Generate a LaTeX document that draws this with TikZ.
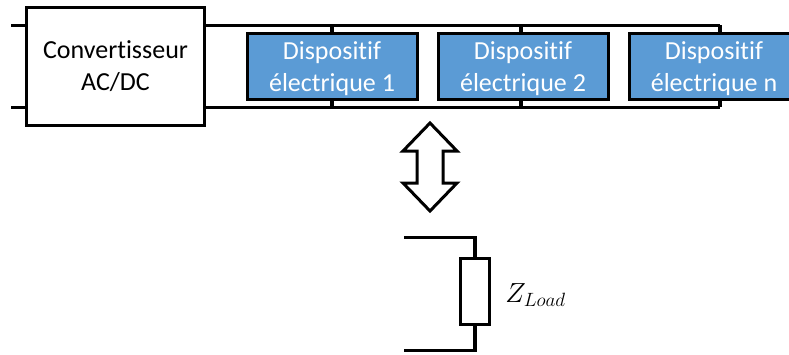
\documentclass[tikz,border=0pt]{standalone}
\usepackage{fontspec}
\setmainfont{Carlito}[Ligatures=NoCommon]
\usepackage{xcolor}
\usepackage{tikz}
\usetikzlibrary{calc, positioning}
\definecolor{devblue}{RGB}{91, 155, 213}

\tikzset{
    wire/.style={draw=black, line width=2.3pt},
    convbox/.style={draw=black, fill=white, line width=2.25pt, align=center, outer sep=0pt,
        minimum width=133.5pt, minimum height=89pt, font=\fontsize{19.5}{24}\selectfont},
    devbox/.style={draw=black, fill=devblue, text=white, line width=2.25pt, align=center, outer sep=0pt,
        text depth=0pt, minimum width=127.5pt, minimum height=50pt, font=\fontsize{19.5}{24}\selectfont},
    loadbox/.style={draw=black, fill=white, line width=2.25pt, outer sep=0pt,
        minimum width=21.5pt, minimum height=50pt},
}

\begin{document}
\begin{tikzpicture}[x=0.75pt, y=-0.75pt]
    \path[use as bounding box, clip] (0,0) rectangle (789,354);

    % bus
    \coordinate (topin) at (11,25.4);
    \coordinate (botin) at (11,107.4);
    \coordinate (topa) at (332,25.4);
    \coordinate (topb) at (521,25.4);
    \coordinate (topc) at (720,25.4);

    \node[convbox] (conv) at (115.5,66.5) {Convertisseur\\AC/DC};
    \node[devbox] (dev1) at (332,66.5) {Dispositif\\électrique 1};
    \node[devbox] (dev2) at (523,66.5) {Dispositif\\électrique 2};
    \node[devbox] (devn) at (714,66.5) {Dispositif\\électrique n};

    \draw[wire] (topin) -- (topin -| conv.west);
    \draw[wire] (botin) -- (botin -| conv.west);
    \draw[wire] (topin -| conv.east) -- (topc);
    \draw[wire] (botin -| conv.east) -- (botin -| topc);
    \foreach \t/\d in {topa/dev1, topb/dev2, topc/devn} {
        \draw[wire] (\t) -- (\t |- \d.north);
        \draw[wire] (\t |- botin) -- (\t |- \d.south);
    }

    % double arrow
    \draw[line width=2.25pt, miter limit=10] (430,123) -- (457,151) -- (443,151) -- (443,183) -- (457,183)
        -- (430,211) -- (403,183) -- (417,183) -- (417,151) -- (403,151) -- cycle;

    % load
    \node[loadbox] (rload) at (475,291.5) {};
    \node[anchor=west, inner sep=0pt, font=\fontsize{19.5}{24}\selectfont] (zload) at (505,295) {$Z_{Load}$};
    \coordinate (loadtop) at (404,237.4);
    \coordinate (loadbot) at (404,350.4);
    \draw[wire] (loadtop) -| (rload.north);
    \draw[wire] (loadbot) -| (rload.south);
\end{tikzpicture}
\end{document}
